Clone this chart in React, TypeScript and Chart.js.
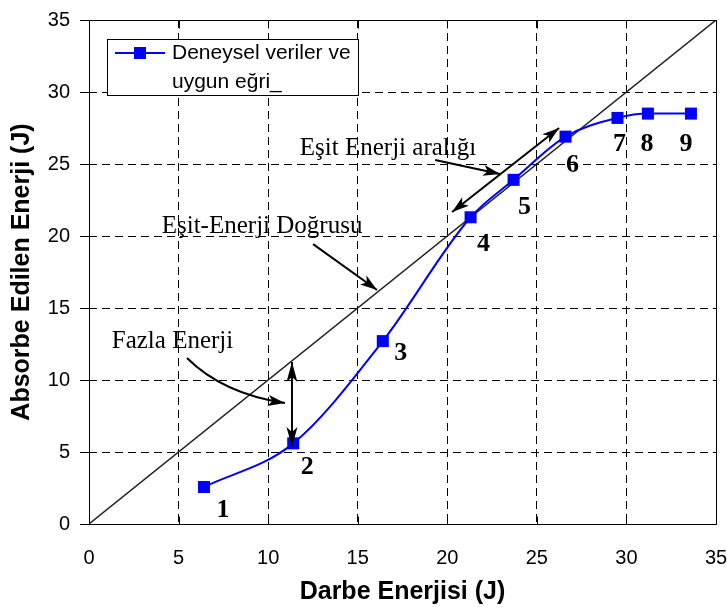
import React, { useEffect, useRef } from 'react';
import { Chart, registerables } from 'chart.js';
Chart.register(...registerables);

// ---- data ----
const pointLabels = ['1', '2', '3', '4', '5', '6', '7', '8', '9'];
const impactEnergy = [6.42, 11.4, 16.4, 21.3, 23.7, 26.6, 29.5, 31.2, 33.6];
const absorbedEnergy = [2.57, 5.6, 12.7, 21.3, 23.9, 26.9, 28.2, 28.5, 28.5];
const equalLine = [0, 35];
const xTickValues = [0, 5, 10, 15, 20, 25, 30, 35];
const seriesName = ['Deneysel veriler ve', 'uygun eğri_'];
const xTitle = 'Darbe Enerjisi (J)';
const yTitle = 'Absorbe Edilen Enerji (J)';
const textEqualRange = 'Eşit Enerji aralığı';
const textEqualLine = 'Eşit-Enerji Doğrusu';
const textExcess = 'Fazla Enerji';

const SANS = "'Liberation Sans', Arial, sans-serif";
const SERIF = "'Liberation Serif', 'Times New Roman', serif";

function head(ctx: CanvasRenderingContext2D, tx: number, ty: number, ang: number, len = 17, w = 5.5) {
  const c = Math.cos(ang), s = Math.sin(ang);
  ctx.beginPath();
  ctx.moveTo(tx, ty);
  ctx.lineTo(tx - len * c + w * s, ty - len * s - w * c);
  ctx.lineTo(tx - len * 0.75 * c, ty - len * 0.75 * s);
  ctx.lineTo(tx - len * c - w * s, ty - len * s + w * c);
  ctx.closePath();
  ctx.fill();
}

function arrow(ctx: CanvasRenderingContext2D, x0: number, y0: number, x1: number, y1: number, both = false, len = 17) {
  const ang = Math.atan2(y1 - y0, x1 - x0);
  ctx.beginPath();
  ctx.moveTo(x0, y0);
  ctx.lineTo(x1, y1);
  ctx.stroke();
  head(ctx, x1, y1, ang, len);
  if (both) head(ctx, x0, y0, ang + Math.PI, len);
}

const decor = {
  id: 'decor',
  afterDatasetsDraw(chart: any) {
    const { ctx, chartArea: a, scales } = chart;
    const X = (v: number) => scales.x.getPixelForValue(v);
    const Y = (v: number) => scales.y.getPixelForValue(v);
    ctx.save();
    ctx.setLineDash([]);
    // frame
    ctx.strokeStyle = '#000';
    ctx.lineWidth = 1;
    const l = Math.round(a.left) + 0.5, t = Math.round(a.top) + 0.5;
    const r = Math.round(a.right) + 0.5, b = Math.round(a.bottom) + 0.5;
    ctx.strokeRect(l, t, r - l, b - t);
    // inner ticks on x
    ctx.beginPath();
    xTickValues.forEach((v) => {
      const px = Math.round(X(v)) + 0.5;
      ctx.moveTo(px, b); ctx.lineTo(px, b - 8);
      ctx.moveTo(px, t); ctx.lineTo(px, t + 8);
    });
    ctx.stroke();

    // point number labels
    const offs = [[19, 30], [14, 31], [18, 19], [13, 34], [11, 34], [7, 35], [2, 33], [-1, 37], [-5, 37]];
    ctx.fillStyle = '#000';
    ctx.font = `bold 26px ${SERIF}`;
    ctx.textAlign = 'center';
    ctx.textBaseline = 'alphabetic';
    pointLabels.forEach((lab, i) => {
      ctx.fillText(lab, X(impactEnergy[i]) + offs[i][0], Y(absorbedEnergy[i]) + offs[i][1]);
    });

    // annotation texts
    ctx.font = `25px ${SERIF}`;
    ctx.fillText(textEqualRange, X(16.69), Y(25.63));
    ctx.fillText(textEqualLine, X(9.66), Y(20.21));
    ctx.fillText(textExcess, X(4.66), Y(12.22));

    // arrows
    ctx.strokeStyle = '#000';
    ctx.fillStyle = '#000';
    ctx.lineWidth = 2;
    arrow(ctx, X(19.32), Y(25.28), X(22.95), Y(24.31));
    arrow(ctx, X(20.27), Y(21.67), X(26.24), Y(27.5), true);
    arrow(ctx, X(12.51), Y(19.44), X(16.08), Y(16.25));
    arrow(ctx, X(11.33), Y(5.35), X(11.33), Y(11.25), true, 20);
    // curved arrow
    const sx = X(5.47), sy = Y(11.53), cx = X(7.46), cy = Y(9.06), ex = X(10.94), ey = Y(8.4);
    ctx.beginPath();
    ctx.moveTo(sx, sy);
    ctx.quadraticCurveTo(cx, cy, ex, ey);
    ctx.stroke();
    head(ctx, ex, ey, Math.atan2(ey - cy, ex - cx));

    // legend
    ctx.lineWidth = 1;
    ctx.fillStyle = '#fff';
    ctx.fillRect(107, 39, 251, 56);
    ctx.strokeStyle = '#000';
    ctx.strokeRect(107.5, 39.5, 251, 56);
    ctx.strokeStyle = '#0000ff';
    ctx.lineWidth = 2;
    ctx.beginPath();
    ctx.moveTo(115, 53); ctx.lineTo(165, 53);
    ctx.stroke();
    ctx.fillStyle = '#0000ff';
    ctx.fillRect(134, 47, 12, 12);
    ctx.fillStyle = '#000';
    ctx.font = `21px ${SANS}`;
    ctx.textAlign = 'left';
    ctx.textBaseline = 'middle';
    ctx.fillText(seriesName[0], 172, 53);
    ctx.fillText(seriesName[1], 172, 82);
    ctx.restore();
  },
};

export default function App() {
  const ref = useRef<HTMLCanvasElement>(null);
  useEffect(() => {
    const chart = new Chart(ref.current!, {
      type: 'line',
      data: {
        datasets: [
          {
            label: seriesName.join(' '),
            data: impactEnergy.map((v, i) => ({ x: v, y: absorbedEnergy[i] })),
            borderColor: '#0000ff',
            backgroundColor: '#0000ff',
            borderWidth: 2,
            pointStyle: 'rect',
            pointRadius: 8.5,
            pointBorderWidth: 0,
            cubicInterpolationMode: 'monotone',
          },
          {
            label: 'equal',
            data: equalLine.map((v) => ({ x: v, y: v })),
            borderColor: '#222',
            borderWidth: 1.4,
            pointRadius: 0,
          },
        ],
      },
      options: {
        animation: false,
        responsive: false,
        parsing: false,
        layout: { padding: { left: 0, right: 11, top: 20, bottom: 0 } },
        plugins: { legend: { display: false }, tooltip: { enabled: false } },
        scales: {
          x: {
            type: 'linear',
            min: 0,
            max: 35,
            afterFit: (s: any) => { s.height = 83; s.paddingLeft = 0; s.paddingRight = 0; },
            ticks: { stepSize: 5, color: '#000', font: { family: SANS, size: 20 }, padding: 22 },
            grid: { color: '#000', lineWidth: 1, drawTicks: false },
            border: { display: false, dash: [8, 5] },
            title: { display: true, text: xTitle, color: '#000', font: { family: SANS, size: 25, weight: 'bold' }, padding: { top: 0, bottom: 0 } },
          },
          y: {
            type: 'linear',
            min: 0,
            max: 35,
            afterFit: (s: any) => { s.width = 89; s.paddingTop = 0; s.paddingBottom = 0; },
            ticks: { stepSize: 5, color: '#000', font: { family: SANS, size: 20 }, padding: 10 },
            grid: { color: '#000', lineWidth: 1, drawTicks: true, tickLength: 9, tickBorderDash: [] },
            border: { display: false, dash: [8, 5] },
            title: { display: true, text: yTitle, color: '#000', font: { family: SANS, size: 25, weight: 'bold' }, padding: { top: 7, bottom: 0 } },
          },
        },
      },
      plugins: [decor],
    } as any);
    return () => chart.destroy();
  }, []);
  return (
    <div style={{ position: 'fixed', left: 0, top: 0, width: 727, height: 607, background: '#fff' }}>
      <canvas ref={ref} width={727} height={607} style={{ display: 'block' }} />
    </div>
  );
}
